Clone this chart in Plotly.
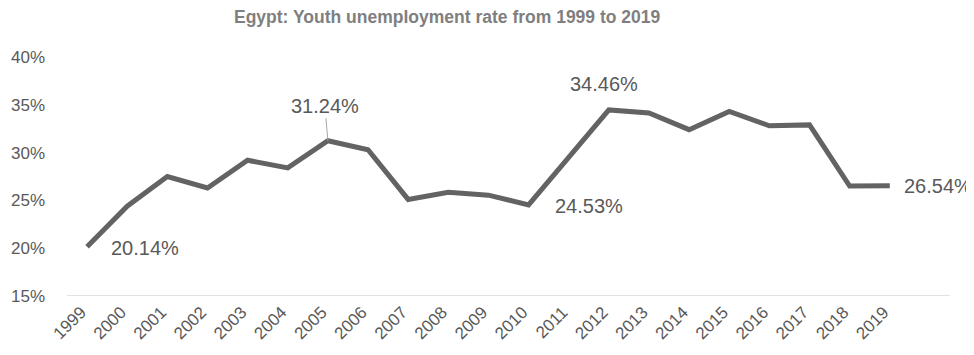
import plotly.graph_objects as go

years = [str(y) for y in range(1999, 2020)]
rates = [20.14, 24.4, 27.5, 26.3, 29.2, 28.4, 31.24, 30.3, 25.1, 25.85, 25.55,
         24.53, 29.5, 34.46, 34.15, 32.4, 34.3, 32.8, 32.9, 26.5, 26.54]
ytick_vals = [15, 20, 25, 30, 35, 40]
ytick_text = ["15%", "20%", "25%", "30%", "35%", "40%"]
# (xanchor, xshift, yshift) for labelled points; None = leader line label
labelled = {"1999": ("left", 22, -1), "2005": None, "2010": ("left", 24, -1),
            "2012": ("center", -5, 26), "2019": ("left", 12, 0)}

FONT = "Liberation Sans"
GRAY = "#595959"

fig = go.Figure()
fig.add_trace(go.Scatter(x=list(range(len(years))), y=rates, mode="lines",
                         line=dict(color="#636363", width=5),
                         hoverinfo="skip", showlegend=False))

for yr, off in labelled.items():
    i = years.index(yr)
    v = rates[i]
    if off is None:
        fig.add_annotation(x=i, y=v, text=f"{v:.2f}%", showarrow=True,
                           arrowhead=0, arrowwidth=1, arrowcolor="#a6a6a6",
                           ax=-3, ay=-35, font=dict(family=FONT, size=20, color=GRAY))
    else:
        fig.add_annotation(x=i, y=v, text=f"{v:.2f}%", showarrow=False,
                           xanchor=off[0], xshift=off[1], yshift=off[2],
                           font=dict(family=FONT, size=20, color=GRAY))

fig.add_annotation(xref="paper", yref="paper", x=(447 - 67) / 883,
                   y=1 + (57 - 17) / 239, yanchor="middle", xanchor="center",
                   text="<b>Egypt: Youth unemployment rate from 1999 to 2019</b>",
                   showarrow=False, font=dict(family=FONT, size=17.5, color="#7f7f7f"))

# page body has an 8px default margin, so the figure is sized/offset to fit the window
fig.update_layout(
    width=966, height=347,
    margin=dict(l=59, r=24, t=49, b=59),
    plot_bgcolor="white", paper_bgcolor="white",
    xaxis=dict(range=[-0.5, 21.5], tickvals=list(range(len(years))), ticktext=years,
               tickangle=-45, ticklabelshift=-6, ticklabelstandoff=2, automargin=False,
               showgrid=False, showline=False, zeroline=False, ticks="",
               tickfont=dict(family=FONT, size=17, color=GRAY)),
    yaxis=dict(range=[15, 40], tickvals=ytick_vals, ticktext=ytick_text,
               ticklabelstandoff=21, automargin=False,
               showgrid=False, zeroline=False, showline=False, ticks="",
               tickfont=dict(family=FONT, size=17, color=GRAY)),
)
fig.add_hline(y=15, line=dict(color="#d9d9d9", width=1.5))

fig.write_html("out.html")
